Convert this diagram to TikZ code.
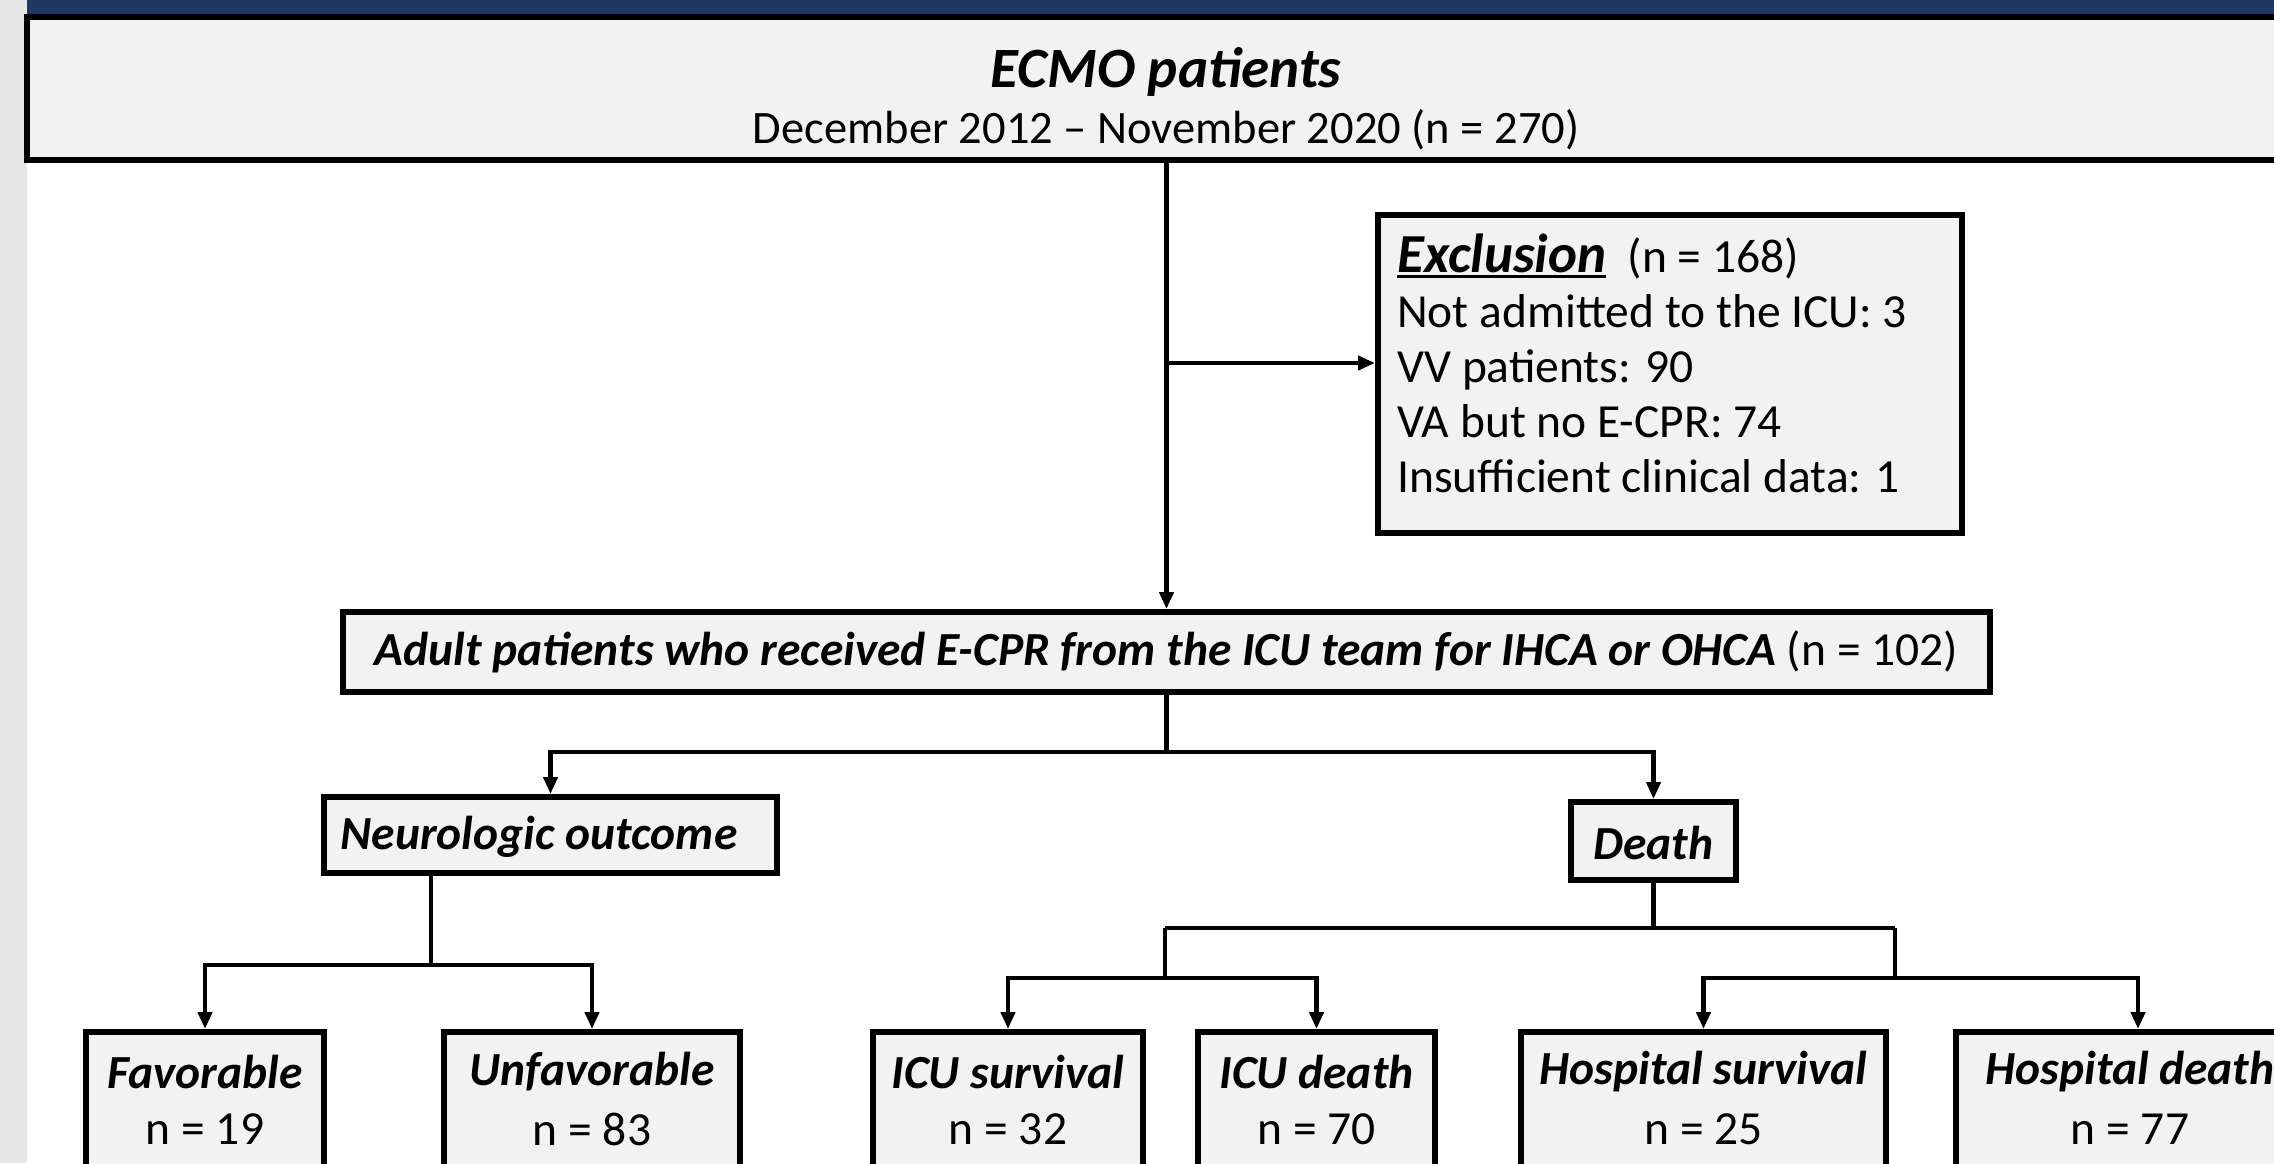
\documentclass[tikz,border=0pt]{standalone}
\usepackage{fontspec}
\setmainfont{Carlito}
\usetikzlibrary{arrows.meta,calc}
\definecolor{navy}{HTML}{1F3864}
\definecolor{stripgray}{HTML}{E7E6E6}
\definecolor{boxfill}{HTML}{F2F2F2}
\newcommand\myul[1]{\setbox0\hbox{#1}\rlap{\rule[-6pt]{\wd0}{3.5pt}}\box0}
\tikzset{
  fbox/.style={draw=black, line width=6pt, fill=boxfill, inner sep=0pt},
  body/.style={font=\fontsize{47.5}{57}\selectfont, inner sep=0pt},
  bodybi/.style={font=\fontsize{47.5}{57}\selectfont\bfseries\itshape, inner sep=0pt},
  conn/.style={line width=4.5pt},
  arr/.style={line width=4.5pt, -{Triangle[width=14pt,length=17pt]}},
}
\begin{document}
\begin{tikzpicture}[x=1pt,y=-1pt]
\useasboundingbox (0,0) rectangle (2274,1163);
\clip (0,0) rectangle (2274,1163);
\fill[white] (0,0) rectangle (2274,1163);
% header band and left strip
\fill[navy] (27,0) rectangle (2274,17);
\fill[stripgray] (0,0) rectangle (27,1163);
% top box
\node[fbox, minimum width=2263pt, minimum height=143pt] (top) at (1158.5,88.5) {};
\node[font=\fontsize{57}{66}\selectfont\bfseries\itshape, inner sep=0pt] (ttl) at (1166,72) {ECMO patients};
\node[font=\fontsize{46.5}{55}\selectfont, inner sep=0pt] (sub) at (1166,130) {December 2012 -- November 2020 (n = 270)};
% exclusion box
\node[fbox, minimum width=584pt, minimum height=318pt] (excl) at (1670,374) {};
\node[anchor=base west, inner sep=0pt] (ex1) at (1397,272) {{\fontsize{55}{64}\selectfont\bfseries\itshape\myul{Exclusion}}{\fontsize{47.5}{57}\selectfont\ \ (n = 168)}};
\node[body, anchor=base west] (ex2) at (1397,327) {Not admitted to the ICU: 3};
\node[body, anchor=base west] (ex3) at (1397,382) {VV patients: 90};
\node[body, anchor=base west] (ex4) at (1397,437) {VA but no E-CPR: 74};
\node[body, anchor=base west] (ex5) at (1397,492) {Insufficient clinical data: 1};
% adult box
\node[fbox, minimum width=1647pt, minimum height=80pt] (adult) at (1166.5,652) {};
\node[body] (adultt) at (1166.5,652) {{\bfseries\itshape Adult patients who received E-CPR from the ICU team for IHCA or OHCA} (n = 102)};
% second level
\node[fbox, minimum width=453pt, minimum height=76pt] (neuro) at (550.5,835) {};
\node[bodybi] (neurot) at (539,837) {Neurologic outcome};
\node[fbox, minimum width=165pt, minimum height=78pt] (death) at (1653.5,841) {};
\node[bodybi] (deatht) at (1653.5,843) {Death};
% bottom boxes
\node[fbox, minimum width=238pt, minimum height=160pt] (fav) at (205,1112) {};
\node[fbox, minimum width=296pt, minimum height=160pt] (unfav) at (592,1112) {};
\node[fbox, minimum width=270pt, minimum height=160pt] (icus) at (1008,1112) {};
\node[fbox, minimum width=237pt, minimum height=160pt] (icud) at (1316.5,1112) {};
\node[fbox, minimum width=365pt, minimum height=160pt] (hosps) at (1703.5,1112) {};
\node[fbox, minimum width=364pt, minimum height=160pt] (hospd) at (2138,1112) {};
\node[bodybi] (favt) at (205,1072) {Favorable};
\node[body] (favn) at (205,1129) {n = 19};
\node[bodybi] (unfavt) at (592,1072) {Unfavorable};
\node[body] (unfavn) at (592,1129) {n = 83};
\node[bodybi] (icust) at (1008,1072) {ICU survival};
\node[body] (icusn) at (1008,1129) {n = 32};
\node[bodybi] (icudt) at (1316.5,1072) {ICU death};
\node[body] (icudn) at (1316.5,1129) {n = 70};
\node[bodybi] (hospst) at (1703.5,1072) {Hospital survival};
\node[body] (hospsn) at (1703.5,1129) {n = 25};
\node[bodybi] (hospdt) at (2130,1072) {Hospital death};
\node[body] (hospdn) at (2130,1129) {n = 77};
% connectors
\coordinate (j1) at (1166.5,363);
\coordinate (j2) at (1166.5,752);
\coordinate (n1) at (431,965);
\coordinate (d1) at (1653.5,928);
\coordinate (d2) at (1165,978);
\coordinate (d3) at (1895,978);
\draw[arr] (adult.north |- top.south) -- (adult.north);
\draw[arr] (j1) -- (j1 -| excl.west);
\draw[conn] (adult.south) -- (j2);
\draw[arr] (j2) -| (neuro.north);
\draw[arr] (j2) -| (death.north);
\draw[conn] (n1 |- neuro.south) -- (n1);
\draw[arr] (n1) -| (fav.north);
\draw[arr] (n1) -| (unfav.north);
\draw[conn] (death.south) -- (d1);
\draw[conn] (d1 -| d2) -- (d1 -| d3);
\draw[conn] (d1 -| d2) -- (d2);
\draw[conn] (d1 -| d3) -- (d3);
\draw[arr] (d2) -| (icus.north);
\draw[arr] (d2) -| (icud.north);
\draw[arr] (d3) -| (hosps.north);
\draw[arr] (d3) -| (hospd.north);
\end{tikzpicture}
\end{document}
